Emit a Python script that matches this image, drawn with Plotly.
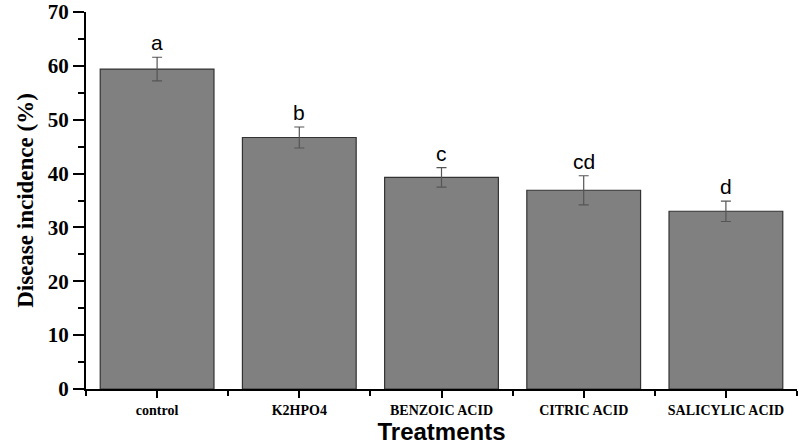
import plotly.graph_objects as go

categories = ["control", "K2HPO4", "BENZOIC ACID", "CITRIC ACID", "SALICYLIC ACID"]
incidence = [59.4, 46.7, 39.3, 36.9, 33.0]
errors = [2.2, 1.95, 1.8, 2.7, 1.9]
letters = ["a", "b", "c", "cd", "d"]
y_ticks = [0, 10, 20, 30, 40, 50, 60, 70]

xpos = list(range(len(categories)))

fig = go.Figure()
fig.add_trace(go.Bar(
    x=xpos, y=incidence, width=0.8,
    marker=dict(color="#808080", line=dict(color="#333333", width=1.2)),
    error_y=dict(type="data", array=errors, visible=True, color="#555555", thickness=1.2, width=5),
    showlegend=False,
))

for xi, v, e, lab in zip(xpos, incidence, errors, letters):
    fig.add_annotation(x=xi, y=v + e, text=lab, showarrow=False, yanchor="bottom", yshift=1,
                       font=dict(family="Liberation Sans, Arial", size=21, color="black"))

fig.update_layout(
    width=800, height=445,
    margin=dict(l=86, r=3, t=12, b=56),
    plot_bgcolor="white", paper_bgcolor="white",
    bargap=0.2,
    xaxis=dict(
        range=[-0.5, 4.5], tickmode="array", tickvals=xpos, ticktext=categories,
        automargin=False,
        showline=True, linecolor="black", linewidth=2, showgrid=False, zeroline=False,
        ticks="outside", ticklen=7, tickwidth=2, tickcolor="black",
        tickfont=dict(family="Liberation Serif, Times New Roman", size=14, color="black", weight="bold"),
        minor=dict(tickmode="array", tickvals=[-0.5, 0.5, 1.5, 2.5, 3.5, 4.5], ticks="outside",
                   ticklen=5, tickwidth=2, tickcolor="black"),
        title=dict(text="Treatments", standoff=6,
                   font=dict(family="Liberation Sans, Arial", size=24, color="black", weight="bold")),
    ),
    yaxis=dict(
        range=[0, 70], tickmode="array", tickvals=y_ticks,
        automargin=False,
        showline=True, linecolor="black", linewidth=2, showgrid=False, zeroline=False,
        ticks="outside", ticklen=11, tickwidth=2, tickcolor="black",
        tickfont=dict(family="Liberation Serif, Times New Roman", size=21, color="black", weight="bold"),
        minor=dict(tickmode="array", tickvals=[5, 15, 25, 35, 45, 55, 65], ticks="outside",
                   ticklen=6, tickwidth=2, tickcolor="black"),
        title=dict(text="Disease incidence (%)", standoff=8,
                   font=dict(family="Liberation Serif, Times New Roman", size=23, color="black", weight="bold")),
    ),
)

fig.write_html("out.html")
